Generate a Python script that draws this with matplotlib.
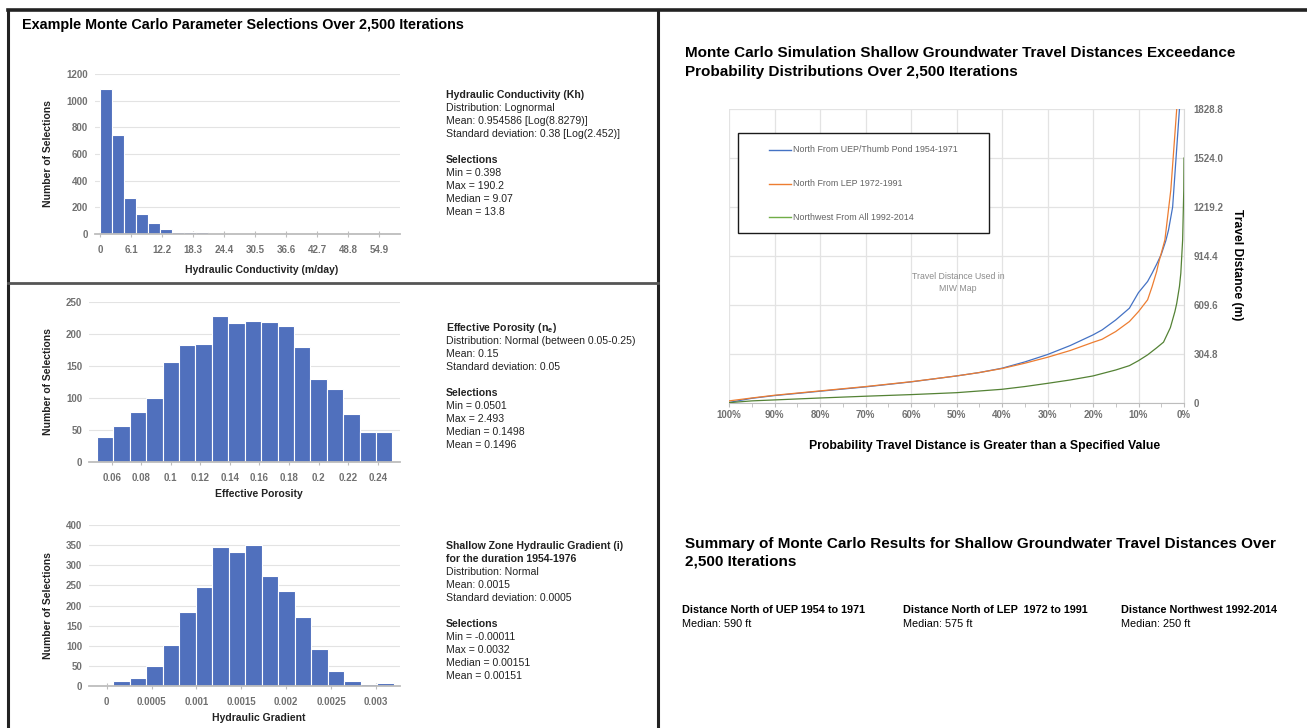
import matplotlib
matplotlib.use("Agg")
import matplotlib.pyplot as plt
import numpy as np
from matplotlib import font_manager
from matplotlib.lines import Line2D
from matplotlib.patches import Rectangle

# Figure size in pixels (drawn at 100 dpi)
W, H = 1307, 728

# --- Hydraulic conductivity histogram (81 bins from 0 up to the max selection) ---
kh_lo, kh_hi, kh_nbins = 0.0, 190.2, 81
kh_counts = [1087, 742, 267, 147, 82, 37, 12, 17, 12, 5, 2]
kh_ticks = [0, 6.1, 12.2, 18.3, 24.4, 30.5, 36.6, 42.7, 48.8, 54.9]
kh_tick_labels = ["0", "6.1", "12.2", "18.3", "24.4", "30.5", "36.6", "42.7", "48.8", "54.9"]

# --- Effective porosity histogram (18 bins) ---
ne_lo, ne_hi = 0.05, 0.25
ne_counts = [39, 56, 78, 100, 156, 183, 185, 228, 217, 221, 219, 212, 179, 129,
             114, 75, 47, 47]
ne_ticks = [0.06, 0.08, 0.1, 0.12, 0.14, 0.16, 0.18, 0.2, 0.22, 0.24]
ne_tick_labels = ["0.06", "0.08", "0.1", "0.12", "0.14", "0.16", "0.18", "0.2", "0.22", "0.24"]

# --- Hydraulic gradient histogram (18 bins) ---
hg_lo, hg_hi = -0.00011, 0.0032
hg_counts = [3, 12, 21, 49, 103, 185, 246, 346, 332, 350, 274, 237, 171, 92,
             37, 12, 5, 8]
hg_ticks = [0, 0.0005, 0.001, 0.0015, 0.002, 0.0025, 0.003]
hg_tick_labels = ["0", "0.0005", "0.001", "0.0015", "0.002", "0.0025", "0.003"]

# --- Exceedance curves: probability (%) vs travel distance (m) ---
uep_prob = [100, 95, 90, 80, 70, 60, 50, 45, 40, 35, 30, 25, 20, 18, 15, 12, 10,
            8, 7, 6, 5, 4, 3.4, 2.5, 1.0]
uep_dist = [5, 31, 48, 75, 102, 133, 170, 191, 218, 257, 303, 359, 425, 456, 518,
            591, 688, 757, 809, 865, 925, 1010, 1077, 1219, 1828.8]
lep_prob = [100, 95, 90, 80, 70, 60, 50, 45, 40, 35, 30, 25, 20, 18, 15, 12, 10,
            8, 7, 6, 5.6, 4.2, 2.9, 1.6]
lep_dist = [15, 33, 50, 77, 104, 134, 170, 191, 216, 249, 286, 328, 379, 398, 446,
            508, 570, 643, 726, 820, 870, 1015, 1325, 1828.8]
nw_prob = [100, 95, 90, 80, 70, 60, 50, 40, 35, 30, 25, 20, 15, 12, 10, 8, 6, 4.5,
           3, 2, 1.6, 1, 0.7, 0.3, 0.05, 0]
nw_dist = [4, 15, 21, 33, 44, 54, 66, 87, 104, 124, 145, 170, 207, 234, 265, 301,
           345, 380, 470, 570, 621, 726, 808, 1015, 1325, 1524]
series_names = ["North From UEP/Thumb Pond 1954-1971", "North From LEP 1972-1991",
                "Northwest From All 1992-2014"]
dist_ticks = [0, 304.8, 609.6, 914.4, 1219.2, 1524.0, 1828.8]
dist_tick_labels = ["0", "304.8", "609.6", "914.4", "1219.2", "1524.0", "1828.8"]
prob_ticks = [100, 90, 80, 70, 60, 50, 40, 30, 20, 10, 0]

summary_heads = ["Distance North of UEP 1954 to 1971", "Distance North of LEP  1972 to 1991",
                 "Distance Northwest 1992-2014"]
summary_medians = ["Median: 590 ft", "Median: 575 ft", "Median: 250 ft"]

BAR = "#5070BD"
GRID = "#E3E3E3"
TICK = "#717171"
AXIS = "#BDBDBD"

installed = {f.name for f in font_manager.fontManager.ttflist}
NARROW = "Liberation Sans Narrow" if "Liberation Sans Narrow" in installed else "Liberation Sans"
plt.rcParams["font.family"] = ["Liberation Sans", "DejaVu Sans"]
plt.rcParams["mathtext.fontset"] = "custom"
plt.rcParams["mathtext.rm"] = "Liberation Sans"
plt.rcParams["mathtext.bf"] = "Liberation Sans:bold"

fig = plt.figure(figsize=(W / 100, H / 100), dpi=100)


def fx(x):
    return x / W


def fy(y):
    return 1 - y / H


def px_axes(left, top, right, bottom):
    return fig.add_axes([fx(left), fy(bottom), (right - left) / W, (bottom - top) / H])


def hline(x0, x1, y, lw=2.0, color="#222222"):
    fig.add_artist(Line2D([fx(x0), fx(x1)], [fy(y), fy(y)], lw=lw, color=color,
                          transform=fig.transFigure))


def vline(x, y0, y1, lw=2.0, color="#222222"):
    fig.add_artist(Line2D([fx(x), fx(x)], [fy(y0), fy(y1)], lw=lw, color=color,
                          transform=fig.transFigure))


def histogram(ax, lo, hi, nbins, counts, xlim, ymax, ystep, ticks, tick_labels,
              xlabel, xlab_pos, ylab_x):
    width = (hi - lo) / nbins
    lefts = lo + width * np.arange(len(counts))
    ax.bar(lefts, counts, width=width, align="edge", color=BAR,
           edgecolor="white", linewidth=0.8, zorder=3)
    ax.set_xlim(*xlim)
    ax.set_ylim(0, ymax)
    ax.set_yticks(np.arange(0, ymax + 1e-9, ystep))
    ax.set_xticks(ticks)
    ax.set_xticklabels(tick_labels)
    ax.grid(axis="y", color=GRID, lw=0.8, zorder=0)
    for side in ("top", "left", "right"):
        ax.spines[side].set_visible(False)
    ax.spines["bottom"].set_color(AXIS)
    ax.spines["bottom"].set_linewidth(1.3)
    ax.spines["bottom"].set_zorder(4)
    ax.tick_params(axis="x", direction="inout", length=4, color=AXIS, pad=6,
                   labelsize=7, labelcolor=TICK)
    ax.tick_params(axis="y", length=0, pad=5, labelsize=7, labelcolor=TICK)
    for lab in ax.get_xticklabels() + ax.get_yticklabels():
        lab.set_fontweight("bold")
    ax.set_xlabel(xlabel, fontsize=7.5, fontweight="bold", color="#222222", va="center")
    ax.xaxis.set_label_coords(*xlab_pos)
    ax.set_ylabel("Number of Selections", fontsize=7.5, fontweight="bold",
                  color="#222222", va="center")
    ax.yaxis.set_label_coords(ylab_x, 0.5)


def text_block(x, y, lines, step=13):
    for i, (txt, bold) in enumerate(lines):
        fig.text(fx(x), fy(y + i * step), txt, fontsize=7.6,
                 fontweight="bold" if bold else "normal", color="#222222", va="center")


# Panel borders
vline(8, 10, 728, lw=2.2)
vline(658, 10, 728, lw=2.2)
hline(8, 1307, 10, lw=2.6)
hline(8, 658, 283, lw=2.0, color="#555555")

fig.text(fx(22), fy(25), "Example Monte Carlo Parameter Selections Over 2,500 Iterations",
         family=NARROW, fontsize=10.4, fontweight="bold", va="center")

ax1 = px_axes(95, 74, 400, 234)
histogram(ax1, kh_lo, kh_hi, kh_nbins, kh_counts, (-1.0, 59.0), 1200, 200,
          kh_ticks, kh_tick_labels, "Hydraulic Conductivity (m/day)",
          (0.547, -0.225), -0.154)

ax2 = px_axes(89, 302, 400, 462)
histogram(ax2, ne_lo, ne_hi, len(ne_counts), ne_counts, (0.0446, 0.2551), 250, 50,
          ne_ticks, ne_tick_labels, "Effective Porosity", (0.545, -0.2), -0.132)

ax3 = px_axes(89, 525, 400, 686)
histogram(ax3, hg_lo, hg_hi, len(hg_counts), hg_counts, (-0.000197, 0.003267), 400, 50,
          hg_ticks, hg_tick_labels, "Hydraulic Gradient", (0.547, -0.2), -0.132)

text_block(446, 95, [
    ("Hydraulic Conductivity (Kh)", True),
    ("Distribution: Lognormal", False),
    ("Mean: 0.954586 [Log(8.8279)]", False),
    ("Standard deviation: 0.38 [Log(2.452)]", False),
    ("", False),
    ("Selections", True),
    ("Min = 0.398", False),
    ("Max = 190.2", False),
    ("Median = 9.07", False),
    ("Mean = 13.8", False),
])
text_block(446, 328, [
    (r"Effective Porosity (n$_\mathbf{e}$)", True),
    ("Distribution: Normal (between 0.05-0.25)", False),
    ("Mean: 0.15", False),
    ("Standard deviation: 0.05", False),
    ("", False),
    ("Selections", True),
    ("Min = 0.0501", False),
    ("Max = 2.493", False),
    ("Median = 0.1498", False),
    ("Mean = 0.1496", False),
])
text_block(446, 546, [
    ("Shallow Zone Hydraulic Gradient (i)", True),
    ("for the duration 1954-1976", True),
    ("Distribution: Normal", False),
    ("Mean: 0.0015", False),
    ("Standard deviation: 0.0005", False),
    ("", False),
    ("Selections", True),
    ("Min = -0.00011", False),
    ("Max = 0.0032", False),
    ("Median = 0.00151", False),
    ("Mean = 0.00151", False),
])

# Exceedance probability chart
fig.text(fx(685), fy(53), "Monte Carlo Simulation Shallow Groundwater Travel Distances Exceedance",
         family=NARROW, fontsize=11.0, fontweight="bold", va="center")
fig.text(fx(685), fy(72), "Probability Distributions Over 2,500 Iterations",
         family=NARROW, fontsize=11.0, fontweight="bold", va="center")

ax4 = px_axes(729, 109, 1184, 403.3)
line_colors = ["#4472C4", "#ED7D31", "#548235"]
legend_colors = ["#4472C4", "#ED7D31", "#70AD47"]
for prob, dist, c in zip([uep_prob, lep_prob, nw_prob], [uep_dist, lep_dist, nw_dist],
                         line_colors):
    ax4.plot(prob, dist, color=c, lw=0.9, zorder=3)
ax4.set_xlim(100, 0)
ax4.set_ylim(0, 1828.8)
ax4.set_xticks(prob_ticks)
ax4.set_xticklabels([f"{p}%" for p in prob_ticks])
ax4.set_xticks(np.arange(95, 0, -10), minor=True)
ax4.set_yticks(dist_ticks)
ax4.set_yticklabels(dist_tick_labels)
ax4.yaxis.tick_right()
ax4.grid(color=GRID, lw=0.9, zorder=0)
ax4.spines["top"].set_visible(False)
ax4.spines["left"].set_visible(False)
ax4.spines["right"].set_color("#D9D9D9")
ax4.spines["bottom"].set_color(AXIS)
ax4.tick_params(axis="x", which="both", direction="out", length=3, color=AXIS,
                pad=2, labelsize=7, labelcolor=TICK)
ax4.tick_params(axis="y", length=0, pad=7, labelsize=7, labelcolor=TICK)
for lab in ax4.get_xticklabels() + ax4.get_yticklabels():
    lab.set_fontweight("bold")
ax4.text(0.503, 0.41, "Travel Distance Used in\nMIW Map", transform=ax4.transAxes,
         ha="center", va="center", fontsize=6.3, color="#8C8C8C", linespacing=1.35)

fig.text(fx(1237), fy(265), "Travel Distance (m)", family=NARROW, fontsize=8.7,
         fontweight="bold", rotation=-90, ha="center", va="center")
fig.text(fx(985), fy(446), "Probability Travel Distance is Greater than a Specified Value",
         family=NARROW, fontsize=8.8, fontweight="bold", ha="center", va="center")

# Legend box drawn in figure pixels
fig.add_artist(Rectangle((fx(738), fy(233)), (989 - 738) / W, (233 - 133) / H,
                         transform=fig.transFigure, facecolor="white",
                         edgecolor="#1a1a1a", lw=1.0, zorder=5))
for i, (name, c) in enumerate(zip(series_names, legend_colors)):
    yy = 150 + i * 33.5
    fig.add_artist(Line2D([fx(769), fx(791)], [fy(yy), fy(yy)], color=c, lw=1.0,
                          transform=fig.transFigure, zorder=6))
    fig.text(fx(793), fy(yy), name, fontsize=6.4, color="#636363", va="center", zorder=6)

# Summary
fig.text(fx(685), fy(544),
         "Summary of Monte Carlo Results for Shallow Groundwater Travel Distances Over",
         family=NARROW, fontsize=11.0, fontweight="bold", va="center")
fig.text(fx(685), fy(562), "2,500 Iterations", family=NARROW, fontsize=11.0,
         fontweight="bold", va="center")
for x, head, med in zip([682, 903, 1121], summary_heads, summary_medians):
    fig.text(fx(x), fy(610), head, family=NARROW, fontsize=7.8, fontweight="bold", va="center")
    fig.text(fx(x), fy(624), med, family=NARROW, fontsize=7.8, va="center")

fig.savefig("out.png", dpi=100)
